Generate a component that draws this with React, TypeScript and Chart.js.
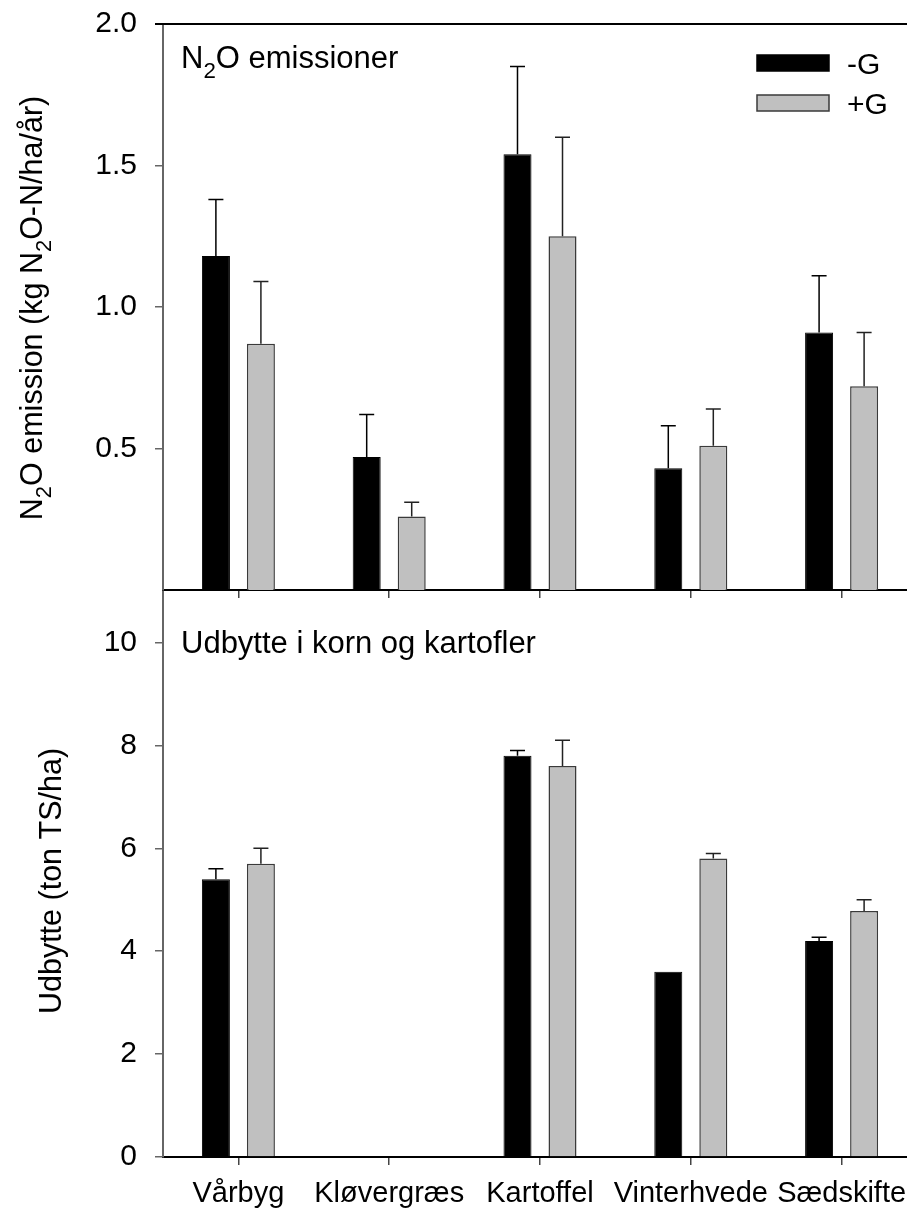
import { useEffect, useRef } from 'react';
import { Chart, registerables } from 'chart.js';
Chart.register(...registerables);

const categories = ['Vårbyg', 'Kløvergræs', 'Kartoffel', 'Vinterhvede', 'Sædskifte'];
const seriesLabels = ['-G', '+G'];
const n2oMinusG = [1.18, 0.47, 1.54, 0.43, 0.91];
const n2oMinusGErr = [0.2, 0.15, 0.31, 0.15, 0.2];
const n2oPlusG = [0.87, 0.26, 1.25, 0.51, 0.72];
const n2oPlusGErr = [0.22, 0.05, 0.35, 0.13, 0.19];
const yieldMinusG = [5.4, null, 7.8, 3.6, 4.2];
const yieldMinusGErr = [0.2, null, 0.1, 0, 0.07];
const yieldPlusG = [5.7, null, 7.6, 5.8, 4.78];
const yieldPlusGErr = [0.3, null, 0.5, 0.1, 0.22];
const n2oTicks = [0.5, 1.0, 1.5, 2.0];
const yieldTicks = [0, 2, 4, 6, 8, 10];
const n2oMax = 2;
const yieldMax = 11;

const FONT = '"Liberation Sans", Arial, sans-serif';
const FS = 29;
const FS_TICK = 30;
const FS_TITLE = 31;
const FS_YTITLE = 30.5;
const BOTTOM_TOP = 560;

type Seg = { t: string; sub?: boolean };

function setFont(ctx: CanvasRenderingContext2D, size: number) {
  ctx.font = `${size}px ${FONT}`;
}
function measureRich(ctx: CanvasRenderingContext2D, segs: Seg[], size: number) {
  let w = 0;
  for (const s of segs) {
    setFont(ctx, s.sub ? size * 0.72 : size);
    w += ctx.measureText(s.t).width;
  }
  return w;
}
function drawRich(ctx: CanvasRenderingContext2D, segs: Seg[], x: number, y: number, size: number) {
  let cx = x;
  ctx.textAlign = 'left';
  ctx.textBaseline = 'alphabetic';
  ctx.fillStyle = '#000';
  for (const s of segs) {
    const fs = s.sub ? size * 0.72 : size;
    setFont(ctx, fs);
    ctx.fillText(s.t, cx, y + (s.sub ? size * 0.31 : 0));
    cx += ctx.measureText(s.t).width;
  }
}
function drawRotated(ctx: CanvasRenderingContext2D, segs: Seg[], baseX: number, centerY: number, size: number) {
  ctx.save();
  ctx.translate(baseX, centerY);
  ctx.rotate(-Math.PI / 2);
  const w = measureRich(ctx, segs, size);
  drawRich(ctx, segs, -w / 2, 0, size);
  ctx.restore();
}

const errorBarPlugin = {
  id: 'errorBars',
  afterDatasetsDraw(chart: any) {
    const ctx = chart.ctx as CanvasRenderingContext2D;
    chart.data.datasets.forEach((ds: any, di: number) => {
      const meta = chart.getDatasetMeta(di);
      const yScale = chart.scales[meta.yAxisID];
      meta.data.forEach((bar: any, i: number) => {
        const v = ds.data[i];
        const e = ds.errors ? ds.errors[i] : null;
        if (v == null || !e) return;
        const yBar = yScale.getPixelForValue(v);
        const yTop = yScale.getPixelForValue(v + e);
        const x = bar.x;
        ctx.save();
        ctx.strokeStyle = ds.errorColor || '#000';
        ctx.lineWidth = 1.5;
        ctx.beginPath();
        ctx.moveTo(x, yBar);
        ctx.lineTo(x, yTop);
        ctx.moveTo(x - 7.5, yTop);
        ctx.lineTo(x + 7.5, yTop);
        ctx.stroke();
        ctx.restore();
      });
    });
  },
};

const topDecor = {
  id: 'topDecor',
  afterDraw(chart: any) {
    const ctx = chart.ctx as CanvasRenderingContext2D;
    const a = chart.chartArea;
    ctx.save();
    ctx.strokeStyle = '#000';
    ctx.lineWidth = 2;
    ctx.beginPath();
    ctx.moveTo(155, a.top);
    ctx.lineTo(chart.width, a.top);
    ctx.stroke();
    ctx.restore();
    drawRich(ctx, [{ t: 'N' }, { t: '2', sub: true }, { t: 'O emissioner' }], 181, 68, FS_TITLE);
    drawRotated(
      ctx,
      [{ t: 'N' }, { t: '2', sub: true }, { t: 'O emission (kg N' }, { t: '2', sub: true }, { t: 'O-N/ha/år)' }],
      42,
      308,
      FS_YTITLE
    );
    const ds = chart.data.datasets;
    const rows = [55, 95];
    ds.forEach((d: any, i: number) => {
      const y = rows[i];
      ctx.save();
      ctx.fillStyle = d.backgroundColor;
      ctx.fillRect(757, y, 72, 16);
      ctx.strokeStyle = d.borderColor;
      ctx.lineWidth = 1.5;
      ctx.strokeRect(757, y, 72, 16);
      ctx.restore();
      drawRich(ctx, [{ t: d.label }], 847, y + 18.5, FS_TICK);
    });
  },
};

const bottomDecor = {
  id: 'bottomDecor',
  afterDraw(chart: any) {
    const ctx = chart.ctx as CanvasRenderingContext2D;
    drawRich(ctx, [{ t: 'Udbytte i korn og kartofler' }], 181, 653 - BOTTOM_TOP, FS_TITLE);
    drawRotated(ctx, [{ t: 'Udbytte (ton TS/ha)' }], 61, 881 - BOTTOM_TOP, FS_YTITLE);
  },
};

function makeDatasets(a: (number | null)[], ae: (number | null)[], b: (number | null)[], be: (number | null)[]) {
  return [
    {
      label: seriesLabels[0],
      data: a,
      errors: ae,
      errorColor: '#000',
      backgroundColor: '#000000',
      borderColor: '#000000',
      borderWidth: 1,
      categoryPercentage: 0.597,
      barPercentage: 0.622,
    },
    {
      label: seriesLabels[1],
      data: b,
      errors: be,
      errorColor: '#222',
      backgroundColor: '#c0c0c0',
      borderColor: '#3a3a3a',
      borderWidth: 1.5,
      categoryPercentage: 0.597,
      barPercentage: 0.622,
    },
  ] as any;
}

function xScale(showLabels: boolean, height: number) {
  return {
    type: 'category',
    offset: true,
    grid: { display: true, drawOnChartArea: false, drawTicks: true, tickLength: 8, offset: false, color: '#444', lineWidth: 1.5 },
    border: { display: true, color: '#000', width: 2 },
    ticks: { display: showLabels, color: '#000', font: { size: FS, family: FONT }, padding: 12, maxRotation: 0, autoSkip: false },
    afterFit(s: any) {
      s.height = height;
    },
  } as any;
}

function yScale(max: number, ticks: number[], fmt: (v: number) => string) {
  return {
    type: 'linear',
    min: 0,
    max,
    grid: { display: true, drawOnChartArea: false, drawTicks: true, tickLength: 8, color: '#666', lineWidth: 1.5 },
    border: { display: true, color: '#666', width: 2 },
    ticks: { color: '#000', font: { size: FS_TICK, family: FONT }, padding: 18, callback: (v: any) => fmt(Number(v)) },
    afterBuildTicks(s: any) {
      s.ticks = ticks.map((v) => ({ value: v }));
    },
    afterFit(s: any) {
      s.width = 163;
      s.paddingTop = 0;
      s.paddingBottom = 0;
    },
  } as any;
}

export default function App() {
  const topRef = useRef<HTMLCanvasElement>(null);
  const botRef = useRef<HTMLCanvasElement>(null);

  useEffect(() => {
    Chart.defaults.font.family = FONT;
    const common = {
      responsive: false,
      animation: false,
      events: [],
      plugins: { legend: { display: false }, tooltip: { enabled: false } },
    } as any;
    const c1 = new Chart(topRef.current!, {
      type: 'bar',
      data: { labels: categories, datasets: makeDatasets(n2oMinusG, n2oMinusGErr, n2oPlusG, n2oPlusGErr) },
      options: {
        ...common,
        layout: { padding: { top: 24, left: 0, right: 3, bottom: 0 } },
        scales: { x: xScale(false, 22), y: yScale(n2oMax, n2oTicks, (v) => v.toFixed(1)) },
      },
      plugins: [errorBarPlugin, topDecor],
    } as any);
    const c2 = new Chart(botRef.current!, {
      type: 'bar',
      data: { labels: categories, datasets: makeDatasets(yieldMinusG, yieldMinusGErr, yieldPlusG, yieldPlusGErr) },
      options: {
        ...common,
        layout: { padding: { top: 31, left: 0, right: 3, bottom: 0 } },
        scales: { x: xScale(true, 56), y: yScale(yieldMax, yieldTicks, (v) => String(v)) },
      },
      plugins: [errorBarPlugin, bottomDecor],
    } as any);
    return () => {
      c1.destroy();
      c2.destroy();
    };
  }, []);

  return (
    <div style={{ position: 'absolute', left: 0, top: 0, width: 907, height: 1213, overflow: 'hidden', background: '#fff' }}>
      <canvas
        ref={botRef}
        width={920}
        height={653}
        style={{ position: 'absolute', left: 0, top: BOTTOM_TOP, width: 920, height: 653 }}
      />
      <canvas ref={topRef} width={920} height={612} style={{ position: 'absolute', left: 0, top: 0, width: 920, height: 612 }} />
    </div>
  );
}
